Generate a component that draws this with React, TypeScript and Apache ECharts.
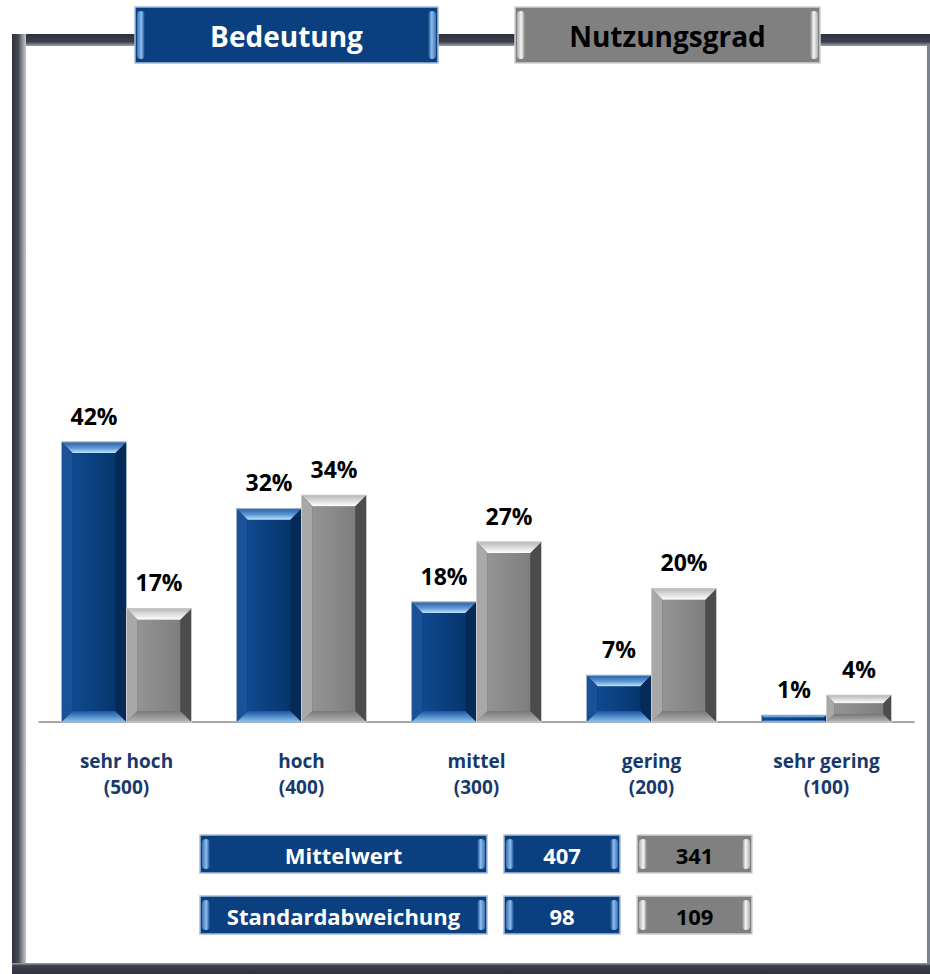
import React, { useEffect, useRef } from 'react';
import * as echarts from 'echarts';

const categories = ['sehr hoch\n(500)', 'hoch\n(400)', 'mittel\n(300)', 'gering\n(200)', 'sehr gering\n(100)'];
const bedeutung = [42, 32, 18, 7, 1];
const nutzungsgrad = [17, 34, 27, 20, 4];
const seriesNames = ['Bedeutung', 'Nutzungsgrad'];
const statLabels = ['Mittelwert', 'Standardabweichung'];
const bedeutungStats = [407, 98];
const nutzungsgradStats = [341, 109];

const FONT = '"Open Sans", "Noto Sans", sans-serif';

const lg = (x2: number, y2: number, stops: [number, string][]) => ({
  type: 'linear', x: 0, y: 0, x2, y2,
  colorStops: stops.map(([offset, color]) => ({ offset, color })),
});

const PAL: any = {
  blue: {
    body: lg(1, 0, [[0, '#0f4a90'], [1, '#07356c']]),
    top: lg(0, 1, [[0, '#2a5fa2'], [0.55, '#5c98d6'], [1, '#bfe6ff']]),
    left: '#1a5198', right: '#052a58',
    bottom: lg(0, 1, [[0, '#1c56a0'], [1, '#8cc2f0']]),
    edge: '#9fb4cc',
  },
  gray: {
    body: lg(1, 0, [[0, '#949494'], [1, '#7e7e7e']]),
    top: lg(0, 1, [[0, '#b8b8b8'], [0.5, '#dcdcdc'], [1, '#ffffff']]),
    left: '#a8a8a8', right: '#4c4c4c',
    bottom: lg(0, 1, [[0, '#777777'], [1, '#b5b5b5']]),
    edge: '#c8c8c8',
  },
};

function makeRender(side: number, pal: any) {
  return (params: any, api: any) => {
    const ci = api.value(0);
    const val = api.value(1);
    const base = api.coord([ci, 0]);
    const top = api.coord([ci, val]);
    const band = api.size([1, 0])[0];
    const w = band * 65 / 175;
    const x = side === 0 ? base[0] - w : base[0];
    const y = top[1];
    const h = base[1] - top[1];
    const b = Math.min(11, h * 0.3);
    return {
      type: 'group',
      children: [
        { type: 'rect', shape: { x, y, width: w, height: h }, style: { fill: pal.right, stroke: pal.edge, lineWidth: 1 } },
        { type: 'rect', shape: { x: x + b, y: y + b, width: w - 2 * b, height: Math.max(0, h - 2 * b) }, style: { fill: pal.body } },
        { type: 'polygon', shape: { points: [[x, y], [x + w, y], [x + w - b, y + b], [x + b, y + b]] }, style: { fill: pal.top } },
        { type: 'polygon', shape: { points: [[x, y + h], [x + w, y + h], [x + w - b, y + h - b], [x + b, y + h - b]] }, style: { fill: pal.bottom } },
        { type: 'polygon', shape: { points: [[x, y], [x + b, y + b], [x + b, y + h - b], [x, y + h]] }, style: { fill: pal.left } },
        { type: 'polygon', shape: { points: [[x + w, y], [x + w - b, y + b], [x + w - b, y + h - b], [x + w, y + h]] }, style: { fill: pal.right } },
        { type: 'rect', shape: { x, y, width: w, height: h }, style: { fill: 'none', stroke: pal.edge, lineWidth: 1 } },
        {
          type: 'text', x: x + w / 2, y: y - 15,
          style: { text: val + '%', align: 'center', verticalAlign: 'bottom', font: `bold 23px ${FONT}`, fill: '#000' },
        },
      ],
    };
  };
}

function button(x: number, y: number, w: number, h: number, text: string, kind: 'blue' | 'gray', fontSize: number) {
  const blue = kind === 'blue';
  const fill = blue ? '#0a3f80' : '#808080';
  const edge = blue ? '#a9bcd2' : '#cfcfcf';
  const light = blue ? '#8dbdec' : '#f4f4f4';
  const mid = blue ? '#3d72b5' : '#b0b0b0';
  return {
    type: 'group',
    children: [
      { type: 'rect', shape: { x, y, width: w, height: h }, style: { fill, stroke: edge, lineWidth: 1.5 } },
      { type: 'rect', shape: { x: x + 2, y: y + 4, width: 8, height: h - 8, r: 4 }, style: { fill: lg(1, 0, [[0, mid], [0.55, light], [1, fill]]) } },
      { type: 'rect', shape: { x: x + w - 10, y: y + 4, width: 8, height: h - 8, r: 4 }, style: { fill: lg(1, 0, [[0, fill], [0.45, light], [1, mid]]) } },
      {
        type: 'text', x: x + w / 2, y: y + h / 2 + 1,
        style: { text, align: 'center', verticalAlign: 'middle', font: `bold ${fontSize}px ${FONT}`, fill: blue ? '#ffffff' : '#000000' },
      },
    ],
  };
}

export default function App() {
  const ref = useRef<HTMLDivElement>(null);
  useEffect(() => {
    document.body.style.margin = '0';
    const chart = echarts.init(ref.current!, null, { renderer: 'svg' });
    const statRowsY = [835, 896];
    const graphic: any[] = [
      // frame
      { type: 'rect', shape: { x: 12, y: 34, width: 918, height: 12 }, style: { fill: lg(0, 1, [[0, '#2e323c'], [0.65, '#3b3f4b'], [1, '#9ea3ad']]) } },
      { type: 'rect', shape: { x: 12, y: 34, width: 14, height: 940 }, style: { fill: lg(1, 0, [[0, '#2e323c'], [0.45, '#44484f'], [0.75, '#8f949c'], [1, '#c4c7cc']]) } },
      { type: 'rect', shape: { x: 12, y: 963, width: 918, height: 11 }, style: { fill: lg(0, 1, [[0, '#a3a8b1'], [0.25, '#3d414c'], [1, '#2e323c']]) } },
      { type: 'rect', shape: { x: 927, y: 44, width: 3, height: 920 }, style: { fill: '#7e828b' } },
      button(135, 7, 303, 56, seriesNames[0], 'blue', 28),
      button(515, 7, 305, 56, seriesNames[1], 'gray', 28),
    ];
    statLabels.forEach((lab, i) => {
      const y = statRowsY[i];
      graphic.push(button(200, y, 287, 38, lab, 'blue', 22));
      graphic.push(button(504, y, 116, 38, String(bedeutungStats[i]), 'blue', 22));
      graphic.push(button(637, y, 115, 38, String(nutzungsgradStats[i]), 'gray', 22));
    });
    chart.setOption({
      animation: false,
      backgroundColor: '#ffffff',
      grid: { left: 39, right: 16, top: 122, bottom: 252, containLabel: false },
      xAxis: {
        type: 'category',
        data: categories,
        axisLine: { lineStyle: { color: '#8a8a8a', width: 1.5 } },
        axisTick: { length: 9, lineStyle: { color: '#8a8a8a', width: 1.5 } },
        axisLabel: { color: '#173a6b', fontWeight: 'bold', fontSize: 19, lineHeight: 26, margin: 26, fontFamily: FONT },
      },
      yAxis: { type: 'value', min: 0, max: 90, show: false },
      graphic,
      series: [
        { type: 'custom', name: seriesNames[0], renderItem: makeRender(0, PAL.blue), encode: { x: 0, y: 1 }, data: bedeutung.map((v, i) => [i, v]) },
        { type: 'custom', name: seriesNames[1], renderItem: makeRender(1, PAL.gray), encode: { x: 0, y: 1 }, data: nutzungsgrad.map((v, i) => [i, v]) },
      ],
    });
    return () => chart.dispose();
  }, []);
  return <div ref={ref} style={{ width: 930, height: 974 }} />;
}
